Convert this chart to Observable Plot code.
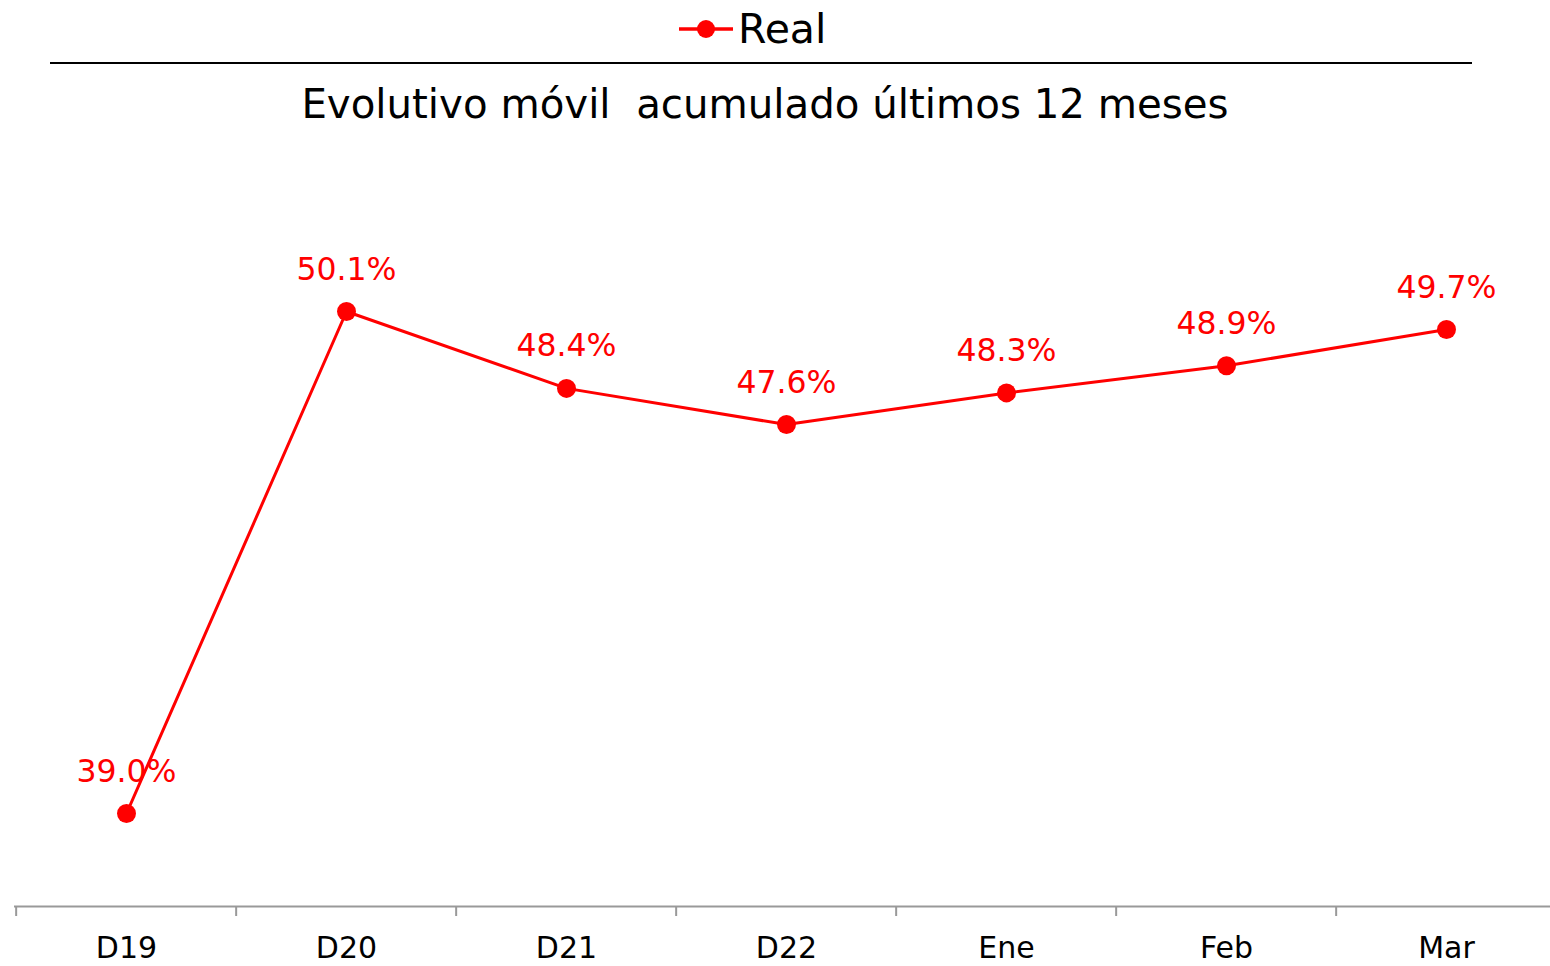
<!DOCTYPE html>
<html>
<head>
<meta charset="utf-8">
<script src="https://cdn.jsdelivr.net/npm/d3@7"></script>
<script src="https://cdn.jsdelivr.net/npm/@observablehq/plot@0.6"></script>
<style>
  html, body { margin: 0; padding: 0; background: #fff; }
  body { width: 1550px; height: 966px; overflow: hidden; font-family: "DejaVu Sans", "Liberation Sans", Arial, sans-serif; }
  #header { position: relative; width: 1550px; height: 130px; }
  #legend { position: absolute; left: 678px; top: 6px; height: 46px; display: flex; align-items: center; }
  #legend span { font-size: 41px; color: #000; margin-left: 4px; line-height: 46px; }
  #rule { position: absolute; left: 50px; top: 62px; width: 1422px; height: 2px; background: #000; }
  #title { position: absolute; left: 0; top: 80px; width: 1530px; text-align: center; font-size: 40.3px; color: #000; line-height: 50px; white-space: pre; }
  #chart svg { display: block; }
</style>
</head>
<body>
<div id="header">
  <div id="legend">
    <svg width="56" height="24" viewBox="0 0 56 24"><line x1="1" y1="12" x2="55" y2="12" stroke="#ff0000" stroke-width="3.5"/><circle cx="28" cy="12" r="9" fill="#ff0000"/></svg>
    <span>Real</span>
  </div>
  <div id="rule"></div>
  <div id="title">Evolutivo móvil  acumulado últimos 12 meses</div>
</div>
<div id="chart"></div>
<script>
const categories = ["D19", "D20", "D21", "D22", "Ene", "Feb", "Mar"];
const values = [39.0, 50.1, 48.4, 47.6, 48.3, 48.9, 49.7];
const valueLabels = ["39.0%", "50.1%", "48.4%", "47.6%", "48.3%", "48.9%", "49.7%"];

const data = categories.map((c, i) => ({cat: c, value: values[i], label: valueLabels[i]}));

const yMin = 36.944, yMax = 54.102;
const xRange = [14, 1558.7];
const halfBand = (xRange[1] - xRange[0]) / categories.length / 2;

const chart = Plot.plot({
  width: 1550,
  height: 836,
  marginTop: 0,
  marginBottom: 60,
  marginLeft: 14,
  marginRight: 0,
  style: {fontFamily: "DejaVu Sans, Liberation Sans, Arial, sans-serif", background: "#fff", overflow: "visible"},
  x: {type: "band", domain: categories, range: xRange, padding: 0, axis: null},
  y: {domain: [yMin, yMax], axis: null},
  marks: [
    Plot.ruleY([yMin], {stroke: "#999", strokeWidth: 2}),
    Plot.axisX(categories, {tickSize: 10, text: null, label: null, dx: -halfBand, stroke: "#999", strokeWidth: 2, y: yMin, anchor: "bottom"}),
    Plot.text(categories, {x: d => d, y: yMin, dy: 42, text: d => d, fontSize: 30, fill: "#000"}),
    Plot.line(data, {x: "cat", y: "value", stroke: "#ff0000", strokeWidth: 3}),
    Plot.dot(data, {x: "cat", y: "value", r: 9.5, fill: "#ff0000", stroke: "none"}),
    Plot.text(data, {x: "cat", y: "value", text: "label", dy: -42, fontSize: 31.5, fill: "#ff0000"})
  ]
});
document.getElementById("chart").appendChild(chart);
</script>
</body>
</html>
